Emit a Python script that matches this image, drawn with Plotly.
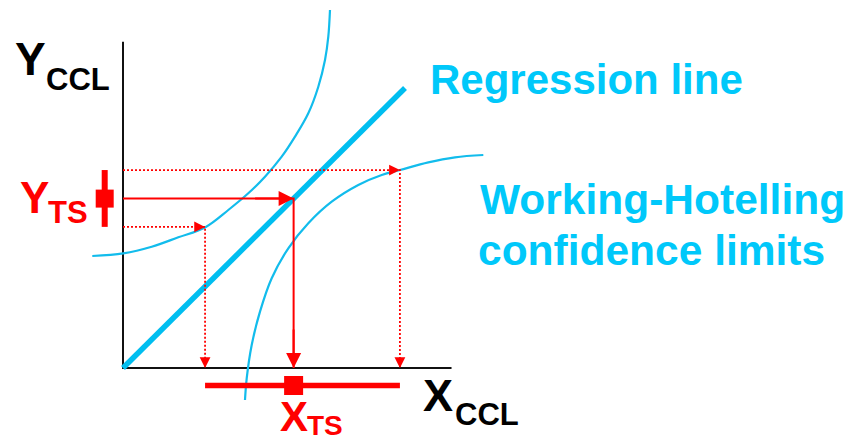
import plotly.graph_objects as go

FIG_W, FIG_H = 850, 443
FONT = "Liberation Sans, Arial, Helvetica, sans-serif"
CYAN_TEXT = "#00C8FA"
CYAN_LINE = "#00BEF0"
CYAN_CURVE = "#12BCEC"
RED = "#FF0000"
INK = "#111111"

# Regression line of the calibration (CCL) set
reg_x = [0.0, 10.0]
reg_y = [0.0, 10.0]

# Working-Hotelling confidence limits (upper and lower branches)
upper_x = [-1.089, 0.011, 1.018, 1.961, 2.908, 3.734, 4.443, 5.035, 5.628,
           6.099, 6.571, 6.926, 7.163, 7.280, 7.340]
upper_y = [4.000, 4.096, 4.332, 4.668, 5.020, 5.643, 6.239, 6.832, 7.546,
           8.261, 9.096, 10.046, 11.000, 11.832, 12.786]
lower_x = [4.326, 4.387, 4.564, 4.858, 5.273, 5.862, 6.571, 7.401, 8.344,
           9.174, 9.823, 10.826, 11.773, 12.777]
lower_y = [-1.143, -0.368, 0.821, 2.011, 3.204, 4.275, 5.168, 5.939, 6.536,
           6.893, 7.071, 7.346, 7.525, 7.607]

# Test-sample response with its interval, and the calibrated value with its interval
y_ts = 6.05
y_ts_lo, y_ts_hi = 5.04, 7.07
x_ts = 6.05
x_ts_lo, x_ts_hi = 2.91, 9.82

# Length of the drawn axes
axis_len = 11.65

# Where the two interval bars sit beside the axes
YBAR_X = -0.649
XBAR_Y = -0.625

fig = go.Figure()


def add_line(x, y, color, width, dash=None, shape="linear"):
    fig.add_trace(go.Scatter(
        x=x, y=y, mode="lines",
        line=dict(color=color, width=width, dash=dash, shape=shape),
        hoverinfo="skip", showlegend=False,
    ))


def add_square(x, y, size):
    fig.add_trace(go.Scatter(
        x=[x], y=[y], mode="markers",
        marker=dict(symbol="square", size=size, color=RED, line=dict(width=0)),
        hoverinfo="skip", showlegend=False,
    ))


def add_head(x, y, ax, ay, width, size):
    fig.add_annotation(
        x=x, y=y, xref="x", yref="y", ax=ax, ay=ay, text="",
        showarrow=True, arrowhead=2, arrowwidth=width, arrowsize=size,
        arrowcolor=RED,
    )


# Axes
add_line([0, 0, axis_len], [axis_len, 0, 0], INK, 2)

# Confidence limits and regression line
add_line(upper_x, upper_y, CYAN_CURVE, 2.2, shape="spline")
add_line(lower_x, lower_y, CYAN_CURVE, 2.2, shape="spline")
add_line(reg_x, reg_y, CYAN_LINE, 5.5)

# Dotted projections of the interval limits
DOT = "2px,2px"
add_line([0, x_ts_hi, x_ts_hi], [y_ts_hi, y_ts_hi, 0], RED, 1.8, dash=DOT)
add_line([0, x_ts_lo, x_ts_lo], [y_ts_lo, y_ts_lo, 0], RED, 1.8, dash=DOT)

# Solid projection of the test value
add_line([0, x_ts, x_ts], [y_ts, y_ts, 0], RED, 2)

# Interval bars
add_line([YBAR_X, YBAR_X], [y_ts_lo, y_ts_hi], RED, 6)
add_square(YBAR_X, y_ts, 18)
add_line([x_ts_lo, x_ts_hi], [XBAR_Y, XBAR_Y], RED, 5.5)
add_square(x_ts, XBAR_Y, 19)

# Arrowheads
add_head(x_ts, y_ts, -40, 0, 2, 1.5)
add_head(x_ts, 0, 0, -40, 2, 1.5)
for xv, yv in [(x_ts_hi, y_ts_hi), (x_ts_lo, y_ts_lo)]:
    add_head(xv, yv, -11, 0, 1.6, 1.35)
    add_head(xv, 0, 0, -11, 1.6, 1.35)


def label(text, px, py, size, color):
    fig.add_annotation(
        x=px / FIG_W, y=1 - py / FIG_H, xref="paper", yref="paper",
        text="<b>" + text + "</b>", showarrow=False,
        xanchor="left", yanchor="middle",
        font=dict(family=FONT, size=size, color=color),
    )


label("Y", 13, 58.5, 46, "#000000")
label("CCL", 43.5, 79, 31, "#000000")
label("X", 421, 395, 45, "#000000")
label("CCL", 452.5, 414, 31, "#000000")
label("Y", 18, 197.5, 44, RED)
label("TS", 46, 213, 31, RED)
label("X", 278, 416, 42, RED)
label("TS", 305, 425.5, 28, RED)
label("Regression line", 428, 80, 42, CYAN_TEXT)
label("Working-Hotelling", 478, 200, 42.5, CYAN_TEXT)
label("confidence limits", 476, 250, 42.5, CYAN_TEXT)

px_x = 28.2
px_y = 28.0
fig.update_layout(
    width=FIG_W, height=FIG_H,
    margin=dict(l=0, r=0, t=0, b=0, pad=0),
    paper_bgcolor="white", plot_bgcolor="white",
    hovermode=False,
    xaxis=dict(range=[-123 / px_x, (FIG_W - 123) / px_x], visible=False,
               fixedrange=True),
    yaxis=dict(range=[(368 - FIG_H) / px_y, 368 / px_y], visible=False,
               fixedrange=True),
)

fig.write_html("out.html", config={"displayModeBar": False})
